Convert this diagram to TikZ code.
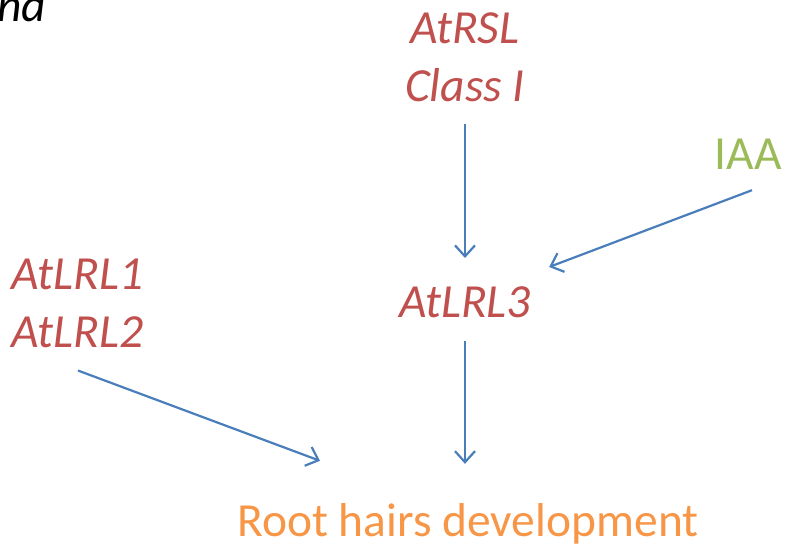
\documentclass[tikz,border=0pt]{standalone}
\usepackage{fontspec}
\setmainfont{Carlito}
\usetikzlibrary{arrows.meta,calc}
\definecolor{genered}{HTML}{C0504D}
\definecolor{hormgreen}{HTML}{9BBB59}
\definecolor{outorange}{HTML}{F79646}
\definecolor{linkblue}{HTML}{4A7EBB}
\tikzset{
  x=1pt, y=1pt,
  label/.style={inner sep=0pt, anchor=base, font=\fontsize{47.5}{58}\selectfont},
  gene/.style={label, text=genered, font=\fontsize{47.5}{58}\selectfont\itshape},
  arr/.style={draw=linkblue, line width=2.2pt,
    -{Straight Barb[length=11pt,width=20pt,line width=2.2pt]}}
}
\begin{document}
\begin{tikzpicture}
\useasboundingbox (0,0) rectangle (787,545);
% fragment of a heading running off the top edge
\node[label, anchor=base west, font=\fontsize{47.5}{58}\selectfont\itshape] (head) at (-3,523) {nd};
% regulators (base anchor sits on the last line)
\node[gene, align=center] (rsl) at (465,443) {AtRSL\\Class I};
\node[label, text=hormgreen] (iaa) at (748,375) {IAA};
\node[gene, anchor=base west, align=left] (lrl12) at (11,197) {AtLRL1\\AtLRL2};
\node[gene] (lrl3) at (465,227) {AtLRL3};
\node[label, text=outorange] (root) at (468,8) {Root hairs development};
% regulatory links
\draw[arr] ([yshift=-21pt]rsl.south) -- ([yshift=29pt]lrl3.north);
\draw[arr] ([shift={(4,-20)}]iaa.south) -- ([shift={(18,20)}]lrl3.north east);
\draw[arr] ([yshift=-22pt]lrl3.south) -- ([shift={(-3,40)}]root.north);
\draw[arr] ([shift={(67,-22)}]lrl12.south west) -- ([shift={(-148,43)}]root.north);
\end{tikzpicture}
\end{document}
